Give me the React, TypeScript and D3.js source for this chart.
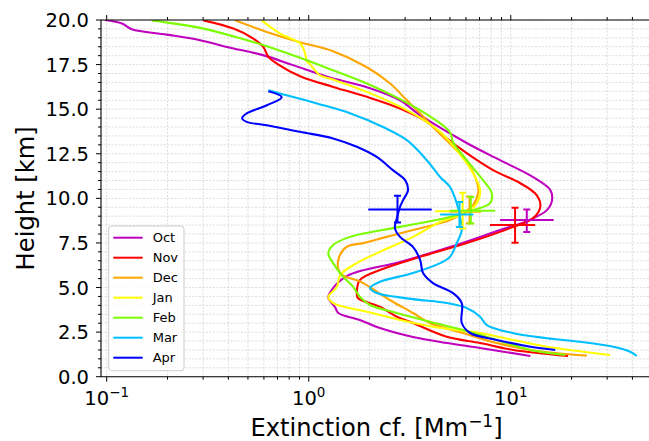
import React from "react";
import * as d3 from "d3";

const months = ["Oct", "Nov", "Dec", "Jan", "Feb", "Mar", "Apr"];
const colors = ["#bf00bf", "#ff0000", "#ffa500", "#ffff00", "#7cfc00", "#00bfff", "#0000ff"];

// [extinction (Mm-1), height (km)]
const octProfile = [
    [0.098, 20.0], [0.119, 19.8], [0.133, 19.48], [0.198, 19.18], [0.29, 18.87], [0.393, 18.49],
    [0.594, 18.03], [0.836, 17.47], [1.27, 16.78], [2.01, 16.18], [2.83, 15.5], [3.56, 14.66],
    [6.08, 13.09], [8.85, 12.14], [12.9, 11.19], [15.7, 10.46], [16.0, 9.9], [15.1, 9.34],
    [12.0, 8.72], [8.85, 8.22], [5.0, 7.27], [2.83, 6.43], [1.55, 5.65], [1.27, 4.69],
    [1.25, 4.41], [1.35, 3.9], [1.4, 3.57], [1.79, 3.18], [2.25, 2.73], [3.28, 2.23],
    [4.84, 1.89], [7.05, 1.61], [12.5, 1.16]
];
const novProfile = [
    [0.301, 19.98], [0.424, 19.52], [0.532, 18.96], [0.596, 18.49], [0.631, 17.93], [0.695, 17.56],
    [0.906, 16.85], [1.32, 16.25], [1.94, 15.69], [2.83, 15.04], [3.84, 14.29], [4.82, 13.36],
    [6.05, 12.53], [8.17, 11.58], [11.1, 10.86], [13.4, 10.19], [14.0, 9.52], [12.9, 8.89],
    [9.92, 8.33], [6.05, 7.49], [3.56, 6.72], [2.25, 5.98], [1.79, 5.42], [1.73, 4.69],
    [1.75, 4.41], [2.25, 3.92], [2.73, 3.36], [3.28, 3.01], [4.82, 2.24], [7.05, 1.89],
    [10.3, 1.5], [19.2, 1.16]
];
const decProfile = [
    [0.432, 19.98], [0.62, 19.33], [0.906, 18.75], [1.32, 18.25], [1.94, 17.35], [2.52, 16.45],
    [3.06, 15.5], [3.56, 14.77], [4.12, 14.0], [5.18, 12.89], [6.29, 11.76], [6.89, 10.64],
    [6.89, 10.29], [6.51, 9.62], [5.8, 9.17], [5.0, 8.78], [3.28, 8.22], [2.43, 7.84],
    [1.86, 7.49], [1.54, 7.28], [1.4, 6.54], [1.43, 5.81], [1.86, 5.25], [2.52, 4.3],
    [3.28, 3.57], [3.98, 3.01], [5.8, 2.45], [8.53, 1.89], [12.5, 1.5], [23.8, 1.18]
];
const janProfile = [
    [0.585, 19.98], [0.721, 19.24], [0.906, 18.69], [0.959, 18.13], [0.977, 17.69], [1.015, 17.52],
    [1.137, 16.9], [1.32, 16.66], [1.94, 15.97], [3.17, 14.85], [4.47, 13.73], [5.4, 12.7],
    [6.51, 11.41], [7.05, 10.46], [6.79, 9.73], [6.05, 9.23], [4.47, 8.67], [3.28, 7.84],
    [2.25, 7.0], [1.73, 6.37], [1.43, 5.7], [1.38, 5.04], [1.25, 4.47], [1.32, 4.13],
    [1.94, 3.64], [2.83, 3.18], [4.12, 2.8], [7.05, 2.45], [10.3, 2.06], [15.1, 1.68], [31.0, 1.22]
];
const febProfile = [
    [0.167, 19.98], [0.29, 19.56], [0.422, 19.09], [0.62, 18.53], [0.906, 17.88], [1.32, 17.18],
    [1.94, 16.44], [2.83, 15.56], [4.12, 14.49], [5.0, 13.71], [5.18, 13.15], [6.05, 12.14],
    [7.29, 11.02], [8.05, 10.29], [7.89, 9.73], [6.51, 9.34], [5.0, 8.95], [2.83, 8.4],
    [1.6, 7.84], [1.32, 7.38], [1.25, 6.91], [1.32, 6.37], [1.48, 5.6], [1.66, 5.04],
    [1.79, 4.48], [2.01, 4.02], [2.73, 3.57], [3.98, 3.08], [5.8, 2.62], [8.53, 2.06],
    [12.5, 1.5], [18.6, 1.22]
];
const marProfile = [
    [0.631, 16.06], [0.721, 15.88], [1.1, 15.32], [1.6, 14.77], [2.33, 14.0], [3.06, 13.26],
    [3.84, 12.14], [4.47, 11.2], [5.0, 10.64], [5.4, 9.73], [5.61, 8.96], [5.72, 8.22],
    [5.4, 7.49], [5.0, 6.72], [4.47, 6.37], [3.28, 5.81], [2.25, 5.32], [2.01, 4.97],
    [2.17, 4.69], [3.28, 4.35], [4.82, 4.13], [6.05, 3.85], [7.05, 3.36], [7.61, 2.89],
    [10.3, 2.44], [15.1, 2.16], [22.0, 1.96], [32.1, 1.68], [39.0, 1.4], [42.0, 1.16]
];
const aprProfile = [
    [0.631, 16.0], [0.735, 15.67], [0.62, 15.22], [0.493, 14.76], [0.468, 14.49], [0.493, 14.29],
    [0.62, 14.1], [0.906, 13.73], [1.32, 13.36], [1.73, 12.89], [2.17, 12.32], [2.61, 11.58],
    [3.0, 11.02], [3.1, 10.46], [2.93, 9.9], [2.83, 9.52], [2.73, 8.89], [2.67, 8.33],
    [2.83, 7.84], [3.28, 7.28], [3.56, 6.54], [3.68, 5.81], [4.12, 5.25], [5.18, 4.69],
    [5.72, 4.13], [5.72, 3.01], [6.29, 2.45], [8.53, 2.06], [12.5, 1.68], [16.6, 1.5]
];
const profiles = [octProfile, novProfile, decProfile, janProfile, febProfile, marProfile, aprProfile];

// [x, x low, x high, height, height low, height high]
const octErr = [12.0, 8.85, 16.3, 8.78, 8.12, 9.38];
const novErr = [10.5, 7.89, 13.2, 8.5, 7.51, 9.47];
const decErr = [6.25, 5.0, 7.1, 9.25, 8.6, 10.1];
const janErr = [5.78, 4.22, 7.05, 9.28, 8.31, 10.31];
const febErr = [6.34, 5.0, 8.37, 9.3, 8.59, 10.08];
const marErr = [5.57, 4.47, 6.53, 9.1, 8.4, 9.8];
const aprErr = [2.75, 1.97, 4.06, 9.38, 8.65, 10.14];
const errorBars = [octErr, novErr, decErr, janErr, febErr, marErr, aprErr];

const yMajorTicks = [0, 2.5, 5, 7.5, 10, 12.5, 15, 17.5, 20];
const xMajorTicks = [0.1, 1, 10];
const xTickExponents = ["\u22121", "0", "1"];

const App = () => {
    const layout = {
        width: 649,
        height: 441,
        left: 101,
        right: 652,
        top: 20,
        bottom: 376.7
    };

    const xScale = d3.scaleLog().domain([0.0937, 50]).range([layout.left, layout.right]);
    const yScale = d3.scaleLinear().domain([0, 20]).range([layout.bottom, layout.top]);

    const lineGenerator = d3
        .line()
        .x(d => xScale(d[0]))
        .y(d => yScale(d[1]))
        .curve(d3.curveCatmullRom.alpha(0.5));

    const xMinorTicks = xScale.ticks().filter(t => !xMajorTicks.some(m => Math.abs(m - t) < 1e-9));
    const yMinorTicks = d3.range(0, 20.01, 0.5);

    const font = "DejaVu Sans, sans-serif";
    const gridStyle = { stroke: "#d4d4d4", strokeWidth: 0.8, strokeDasharray: "2,1.5" };

    const vGrid = xScale.ticks().map(t => (
        <line key={"vg" + t} x1={xScale(t)} x2={xScale(t)} y1={layout.top} y2={layout.bottom} style={gridStyle} />
    ));
    const hGrid = yMinorTicks.map(t => (
        <line key={"hg" + t} x1={layout.left} x2={layout.right} y1={yScale(t)} y2={yScale(t)} style={gridStyle} />
    ));

    const xTicks = [
        ...xMajorTicks.map(t => ({ t, len: 5 })),
        ...xMinorTicks.map(t => ({ t, len: 3 }))
    ].map(({ t, len }) => (
        <g key={"xt" + t}>
            <line x1={xScale(t)} x2={xScale(t)} y1={layout.bottom} y2={layout.bottom + len} stroke="#000" strokeWidth={1} />
            <line x1={xScale(t)} x2={xScale(t)} y1={layout.top} y2={layout.top - len} stroke="#000" strokeWidth={1} />
        </g>
    ));

    const yTicks = yMinorTicks.map(t => {
        const major = yMajorTicks.includes(t);
        return (
            <line key={"yt" + t} x1={layout.left} x2={layout.left - (major ? 5 : 3)} y1={yScale(t)} y2={yScale(t)} stroke="#000" strokeWidth={1} />
        );
    });

    return (
        <svg
            width={layout.width}
            height={layout.height}
            style={{ position: "absolute", left: 0, top: 0, background: "#fff" }}
            fontFamily={font}
        >
            <defs>
                <clipPath id="plot-clip">
                    <rect x={layout.left} y={layout.top} width={layout.right - layout.left} height={layout.bottom - layout.top} />
                </clipPath>
            </defs>
            {vGrid}
            {hGrid}
            <g clipPath="url(#plot-clip)">
                {profiles.map((p, i) => (
                    <g key={months[i]}>
                        <path d={lineGenerator(p)} fill="none" stroke={colors[i]} strokeWidth={2.1} strokeLinejoin="round" />
                    </g>
                ))}
                {errorBars.map((e, i) => {
                    const cx = xScale(e[0]);
                    const cy = yScale(e[3]);
                    const yTop = yScale(e[5]);
                    const yBot = yScale(e[4]);
                    return (
                        <g key={"err" + months[i]} stroke={colors[i]} strokeWidth={2}>
                            <line x1={xScale(e[1])} x2={xScale(e[2])} y1={cy} y2={cy} />
                            <line x1={cx} x2={cx} y1={yTop} y2={yBot} />
                            <line x1={cx - 3.5} x2={cx + 3.5} y1={yTop} y2={yTop} />
                            <line x1={cx - 3.5} x2={cx + 3.5} y1={yBot} y2={yBot} />
                        </g>
                    );
                })}
            </g>
            {/* spines */}
            <line x1={layout.left} x2={layout.left} y1={layout.top} y2={layout.bottom} stroke="#000" strokeWidth={1.1} />
            <line x1={layout.left} x2={layout.right} y1={layout.bottom} y2={layout.bottom} stroke="#000" strokeWidth={1.1} />
            <line x1={layout.left} x2={layout.right} y1={layout.top} y2={layout.top} stroke="#000" strokeWidth={1.1} />
            {xTicks}
            {yTicks}
            {yMajorTicks.map(t => (
                <text key={"yl" + t} x={layout.left - 12} y={yScale(t)} dy="0.36em" textAnchor="end" fontSize={19.5} fill="#000">
                    {d3.format(".1f")(t)}
                </text>
            ))}
            {xMajorTicks.map((t, i) => (
                <text key={"xl" + t} x={xScale(t)} y={405} textAnchor="middle" fontSize={19.5} fill="#000">
                    10<tspan dy={-8} fontSize={13.5}>{xTickExponents[i]}</tspan>
                </text>
            ))}
            <text x={(layout.left + layout.right) / 2} y={436} textAnchor="middle" fontSize={24.2} fill="#000">
                Extinction cf. [Mm<tspan dy={-9.5} fontSize={17}>{"\u22121"}</tspan><tspan dy={9.5}>]</tspan>
            </text>
            <text
                transform={`translate(34, ${(layout.top + layout.bottom) / 2}) rotate(-90)`}
                textAnchor="middle"
                fontSize={24.2}
                fill="#000"
            >
                Height [km]
            </text>
            {/* legend */}
            <rect x={108.7} y={226} width={75.3} height={144.7} rx={3} fill="#fff" fillOpacity={0.8} stroke="#cccccc" strokeWidth={1} />
            {months.map((m, i) => (
                <g key={"lg" + m}>
                    <line x1={113.3} x2={142.7} y1={237.7 + i * 20} y2={237.7 + i * 20} stroke={colors[i]} strokeWidth={2} />
                    <text x={152.7} y={237.7 + i * 20} dy="0.36em" fontSize={13} fill="#000">{m}</text>
                </g>
            ))}
        </svg>
    );
};

export default App;
